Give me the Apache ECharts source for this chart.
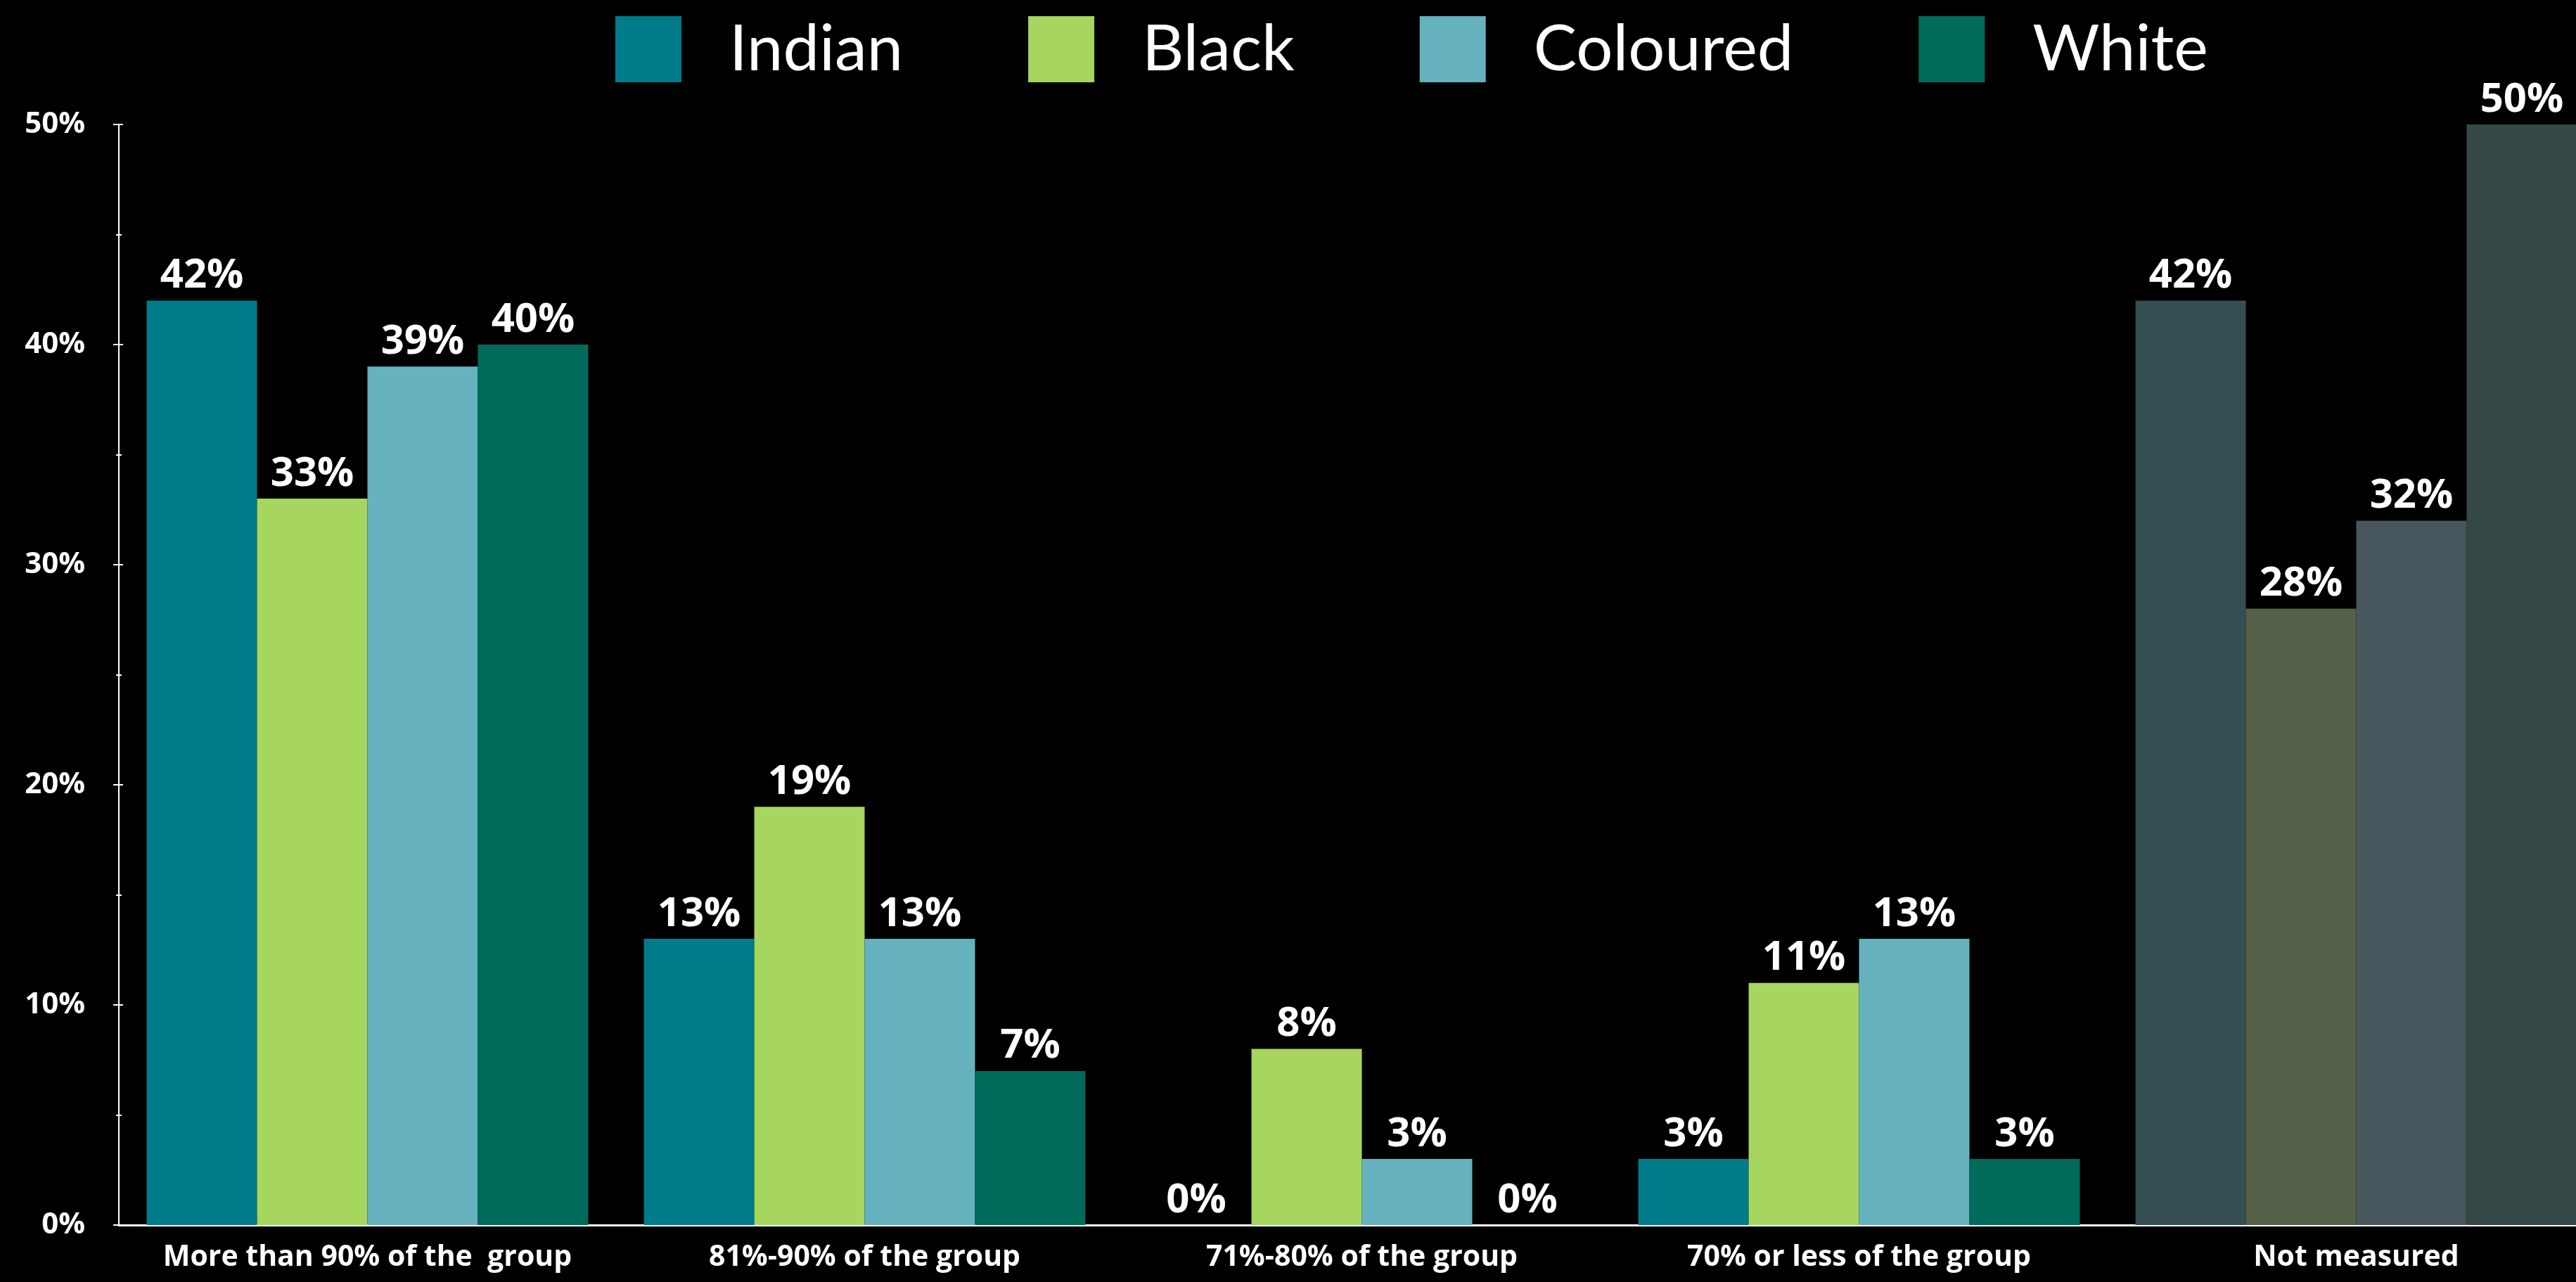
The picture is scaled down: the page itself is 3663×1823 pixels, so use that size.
<!DOCTYPE html>
<html>
<head>
<meta charset="utf-8">
<script src="https://cdn.jsdelivr.net/npm/echarts@6/dist/echarts.min.js"></script>
<style>
html,body{margin:0;padding:0;background:#000;overflow:hidden;}
#chart{width:3663px;height:1823px;}
</style>
</head>
<body>
<div id="chart"></div>
<script>
const categories = ['More than 90% of the  group', '81%-90% of the group', '71%-80% of the group', '70% or less of the group', 'Not measured'];
const seriesNames = ['Indian', 'Black', 'Coloured', 'White'];
const indian = [42, 13, 0, 3, 42];
const black = [33, 19, 8, 11, 28];
const coloured = [39, 13, 3, 13, 32];
const white = [40, 7, 0, 3, 50];
const colors = ['#007B8A', '#A6D65F', '#65B2BE', '#006B5B'];
const fadedColors = ['#354E52', '#556048', '#48575E', '#344945'];
const fadedCategory = 'Not measured';

const values = [indian, black, coloured, white];
const font = '"Open Sans", "DejaVu Sans", sans-serif';

const chart = echarts.init(document.getElementById('chart'), null, {renderer: 'canvas'});

const series = seriesNames.map((name, si) => ({
  name: name,
  type: 'bar',
  barGap: '0%',
  barCategoryGap: '11.2%',
  itemStyle: {color: colors[si]},
  label: {
    show: true,
    position: 'top',
    distance: 6,
    formatter: '{c}%',
    color: '#fff',
    fontFamily: font,
    fontWeight: 'bold',
    fontSize: 58
  },
  data: values[si].map((v, ci) => categories[ci] === fadedCategory
    ? {value: v, itemStyle: {color: fadedColors[si]}}
    : v)
}));

chart.setOption({
  backgroundColor: '#000',
  animation: false,
  legend: {
    left: 870,
    top: 18,
    icon: 'rect',
    itemWidth: 94,
    itemHeight: 94,
    itemGap: 178,
    data: seriesNames,
    textStyle: {
      color: '#fff',
      fontFamily: 'Lato, "Open Sans", sans-serif',
      fontSize: 92,
      padding: [0, 0, 0, 63]
    }
  },
  grid: {left: 169, right: -41, top: 177, bottom: 81, containLabel: false, outerBoundsMode: 'none'},
  xAxis: {
    type: 'category',
    data: categories,
    axisLine: {show: true, lineStyle: {color: '#fff', width: 3}},
    axisTick: {show: false},
    axisLabel: {
      color: '#fff',
      fontFamily: font,
      fontWeight: 'bold',
      fontSize: 41,
      margin: 26,
      interval: 0
    }
  },
  yAxis: [{
    type: 'value',
    min: 0,
    max: 50,
    interval: 10,
    axisLine: {show: true, lineStyle: {color: '#fff', width: 2}},
    axisTick: {show: true, length: 8, lineStyle: {color: '#fff', width: 2}},
    minorTick: {show: true, splitNumber: 2, length: 4, lineStyle: {color: '#fff', width: 2}},
    splitLine: {show: false},
    axisLabel: {
      formatter: '{value}%',
      color: '#fff',
      fontFamily: font,
      fontWeight: 'bold',
      fontSize: 42,
      margin: 48
    }
  }, {
    type: 'value',
    position: 'left',
    min: 0,
    max: 50,
    interval: 10,
    axisLine: {show: false},
    axisTick: {show: true, inside: true, length: 6, lineStyle: {color: '#fff', width: 2}},
    minorTick: {show: true, splitNumber: 2, length: 4, lineStyle: {color: '#fff', width: 2}},
    splitLine: {show: false},
    axisLabel: {show: false}
  }],
  series: series
});
</script>
</body>
</html>
